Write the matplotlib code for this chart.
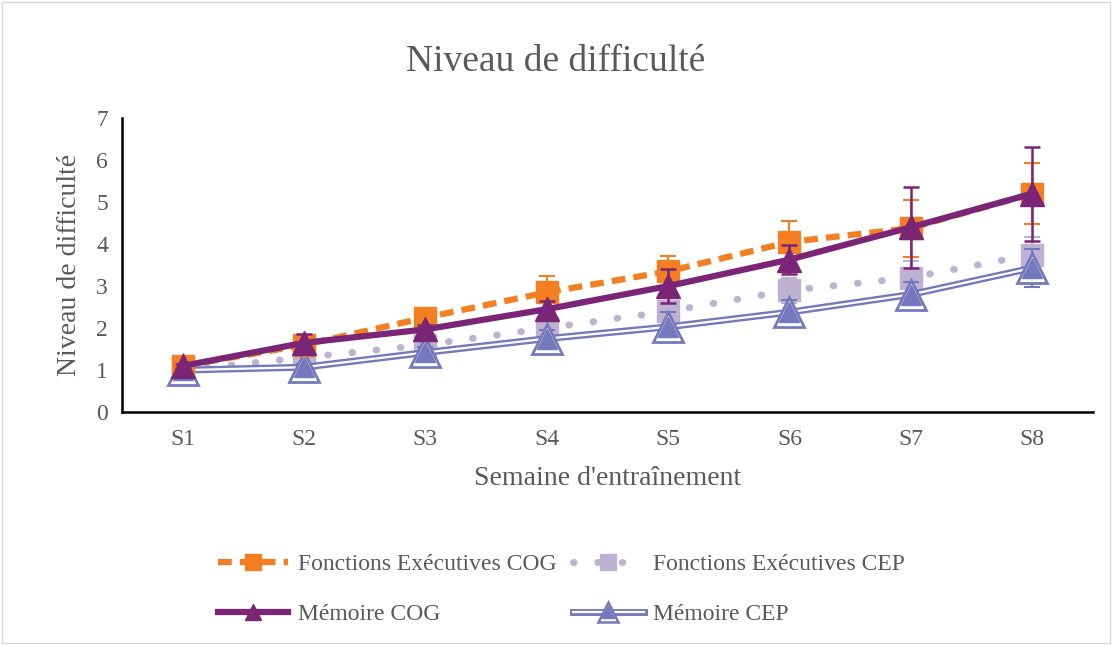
import matplotlib
matplotlib.use('Agg')
import matplotlib.pyplot as plt
from matplotlib.lines import Line2D
from matplotlib.legend_handler import HandlerTuple
import numpy as np

plt.rcParams['font.family'] = ['Liberation Serif', 'DejaVu Serif']

# ---- data ----
weeks = ['S1', 'S2', 'S3', 'S4', 'S5', 'S6', 'S7', 'S8']
fe_cog = [1.1, 1.6, 2.25, 2.85, 3.35, 4.05, 4.38, 5.2]
fe_cog_err = [0.05, 0.1, 0.12, 0.4, 0.37, 0.5, 0.68, 0.72]
fe_cep = [1.0, 1.3, 1.6, 2.0, 2.4, 2.9, 3.2, 3.75]
fe_cep_err = [0.05, 0.08, 0.1, 0.15, 0.2, 0.3, 0.4, 0.43]
mem_cog = [1.1, 1.65, 1.97, 2.45, 3.0, 3.63, 4.4, 5.2]
mem_cog_err = [0.05, 0.22, 0.1, 0.2, 0.4, 0.35, 0.97, 1.12]
mem_cep = [1.0, 1.07, 1.42, 1.75, 2.03, 2.38, 2.8, 3.43]
mem_cep_err = [0.05, 0.08, 0.12, 0.2, 0.35, 0.3, 0.3, 0.45]

orange = '#F47F22'
dark_purple = '#7A2576'
light_purple = '#BFB1D2'
blue_purple = '#7479BD'
grey_txt = '#595959'
dots = (0, (0.1, 3.4))

fig = plt.figure(figsize=(11.12, 6.45), dpi=100)
ax = fig.add_axes([0.1097, 0.361, 0.873, 0.456])
x = np.arange(len(weeks))

# Fonctions Executives CEP (dotted, light squares)
ax.errorbar(x, fe_cep, yerr=fe_cep_err, color=light_purple, lw=0, elinewidth=1.5,
            capsize=6, capthick=1.5, zorder=2)
ax.plot(x, fe_cep, color=light_purple, lw=5, ls=dots, dash_capstyle='round',
        marker='s', ms=16, mec=light_purple, mfc=light_purple, zorder=2)

# Memoire CEP (double line, open triangle)
ax.errorbar(x, mem_cep, yerr=mem_cep_err, color=blue_purple, lw=0, elinewidth=1.5,
            capsize=6, capthick=1.5, zorder=3)
ax.plot(x, mem_cep, color=blue_purple, lw=5, zorder=3)
ax.plot(x, mem_cep, color='white', lw=1.6, zorder=3.1)
ax.plot(x, mem_cep, ls='none', marker='^', ms=22, mfc='white', mec=blue_purple, mew=2, zorder=3.2)
ax.plot(x, mem_cep, ls='none', marker='^', ms=14, mfc=blue_purple, mec=blue_purple, mew=1, zorder=3.3)

# Fonctions Executives COG (dashed orange squares)
ax.errorbar(x, fe_cog, yerr=fe_cog_err, color=orange, lw=0, elinewidth=1.5,
            capsize=6, capthick=1.5, zorder=4)
ax.plot(x, fe_cog, color=orange, lw=4.5, ls=(0, (2.2, 1.3)), marker='s', ms=16,
        mfc=orange, mec=orange, zorder=4)

# Memoire COG (solid dark purple triangles)
ax.errorbar(x, mem_cog, yerr=mem_cog_err, color=dark_purple, lw=0, elinewidth=1.8,
            capsize=6, capthick=1.8, zorder=5)
ax.plot(x, mem_cog, color=dark_purple, lw=4.5, marker='^', ms=17,
        mfc=dark_purple, mec=dark_purple, zorder=5)

ax.set_xlim(-0.5, 7.5)
ax.set_ylim(0, 7)
ax.set_xticks(x)
ax.set_xticklabels(weeks)
ax.set_yticks(range(8))
ax.tick_params(length=0, labelsize=17, labelcolor=grey_txt, pad=12)
ax.tick_params(axis='y', pad=10)
for s in ['top', 'right']:
    ax.spines[s].set_visible(False)
for s in ['left', 'bottom']:
    ax.spines[s].set_color('black')
    ax.spines[s].set_linewidth(1.8)

ax.set_xlabel("Semaine d'entraînement", fontsize=20, color=grey_txt, labelpad=12)
ax.set_ylabel('Niveau de difficulté', fontsize=20, color=grey_txt, labelpad=10)
fig.text(0.5, 0.905, 'Niveau de difficulté', ha='center', va='center', fontsize=27, color=grey_txt)

# legend
h_fe_cog = Line2D([], [], color=orange, lw=4.5, ls=(0, (2.2, 1.3)), marker='s', ms=11, mfc=orange, mec=orange)
h_fe_cep = Line2D([], [], color=light_purple, lw=5, ls=dots, dash_capstyle='round',
                  marker='s', ms=11, mfc=light_purple, mec=light_purple)
h_mem_cog = Line2D([], [], color=dark_purple, lw=4.5, marker='^', ms=12, mfc=dark_purple, mec=dark_purple)
h_mc1 = Line2D([], [], color=blue_purple, lw=5)
h_mc2 = Line2D([], [], color='white', lw=1.6, marker='^', ms=14, mfc='white', mec=blue_purple, mew=1.8)
h_mc3 = Line2D([], [], ls='none', marker='^', ms=8, mfc=blue_purple, mec=blue_purple)
leg = fig.legend([h_fe_cog, h_mem_cog, h_fe_cep, (h_mc1, h_mc2, h_mc3)],
                 ['Fonctions Exécutives COG', 'Mémoire COG', 'Fonctions Exécutives CEP', 'Mémoire CEP'],
                 handler_map={tuple: HandlerTuple(ndivide=1, pad=0)},
                 loc='center left', bbox_to_anchor=(0.1765, 0.086), ncol=2, frameon=False,
                 fontsize=17, handlelength=3.0, columnspacing=0.7, labelspacing=1.2, handletextpad=0.4)
for t in leg.get_texts():
    t.set_color(grey_txt)

# light outer border like the office chart area
fig.patches.append(plt.Rectangle((0.002, 0.003), 0.996, 0.994, transform=fig.transFigure,
                                 fill=False, ec='#D9D9D9', lw=1))

fig.savefig('out.png', dpi=100)
